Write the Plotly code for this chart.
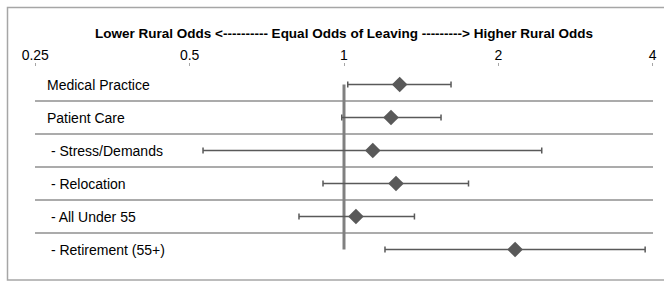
import plotly.graph_objects as go
import math

categories = ["Medical Practice", "Patient Care", " - Stress/Demands", " - Relocation",
              " - All Under 55", " - Retirement (55+)"]
odds = [1.284, 1.235, 1.138, 1.263, 1.055, 2.156]
lower = [1.017, 0.990, 0.531, 0.910, 0.817, 1.202]
upper = [1.617, 1.546, 2.430, 1.749, 1.372, 3.866]
tick_vals = [0.25, 0.5, 1, 2, 4]
tick_text = ["0.25", "0.5", "1", "2", "4"]
ref_value = 1
title_text = "Lower Rural Odds <---------- Equal Odds of Leaving ---------> Higher Rural Odds"

W, H = 664, 283
ml, mr, mt, mb = 35, 11, 67, 16
pw, ph = W - ml - mr, H - mt - mb

fig = go.Figure()

# reference line at odds = 1
fig.add_trace(go.Scatter(
    x=[ref_value, ref_value], y=[categories[0], categories[-1]],
    mode="lines", line=dict(color="#808080", width=3),
    hoverinfo="skip", showlegend=False))

fig.add_trace(go.Scatter(
    x=odds, y=categories, mode="markers",
    marker=dict(symbol="diamond", size=12, color="#595959"),
    error_x=dict(type="data", symmetric=False,
                 array=[u - o for u, o in zip(upper, odds)],
                 arrayminus=[o - l for o, l in zip(odds, lower)],
                 color="#595959", thickness=1.5, width=3),
    showlegend=False))

annotations = [dict(text="<b>" + title_text + "</b>", xref="paper", yref="paper",
                    x=0.5, y=1, yshift=34, xanchor="center", yanchor="middle",
                    showarrow=False, font=dict(size=13.5, color="#000000"))]
for c in categories:
    annotations.append(dict(text=c.replace(" ", "&nbsp;", 1) if c.startswith(" ") else c,
                            xref="paper", yref="y", x=0, y=c, xshift=10,
                            xanchor="left", yanchor="middle", showarrow=False,
                            font=dict(size=14, color="#000000")))

eps = 0.0005
fig.update_layout(
    width=W, height=H,
    margin=dict(l=ml, r=mr, t=mt, b=mb, autoexpand=False),
    paper_bgcolor="white", plot_bgcolor="white",
    font=dict(family="Liberation Sans, Arial, sans-serif", size=14, color="#000000"),
    xaxis=dict(type="log", range=[math.log10(0.25) - eps, math.log10(4) + eps],
               side="top", tickvals=tick_vals, ticktext=tick_text,
               automargin=False, ticklabelstandoff=-3,
               showgrid=False, zeroline=False, showline=False,
               ticks="outside", ticklen=3, tickcolor="#a6a6a6",
               tickfont=dict(size=14, color="#000000")),
    yaxis=dict(type="category", categoryorder="array", categoryarray=categories,
               autorange="reversed", tickson="boundaries", automargin=False,
               showgrid=True, gridcolor="#ababab", gridwidth=1.5,
               showline=False, zeroline=False, ticks="", showticklabels=False),
    annotations=annotations,
    shapes=[dict(type="rect", xref="paper", yref="paper",
                 x0=-(ml - 7.5) / pw, x1=(W + 5 - ml) / pw,
                 y0=-(mb - 3) / ph, y1=1 + (mt - 7.5) / ph,
                 line=dict(color="#a6a6a6", width=1.5), fillcolor="rgba(0,0,0,0)",
                 layer="below")],
)

fig.write_html("out.html", config={"displayModeBar": False},
               post_script="document.body.style.margin='0';document.body.style.overflow='hidden';")
